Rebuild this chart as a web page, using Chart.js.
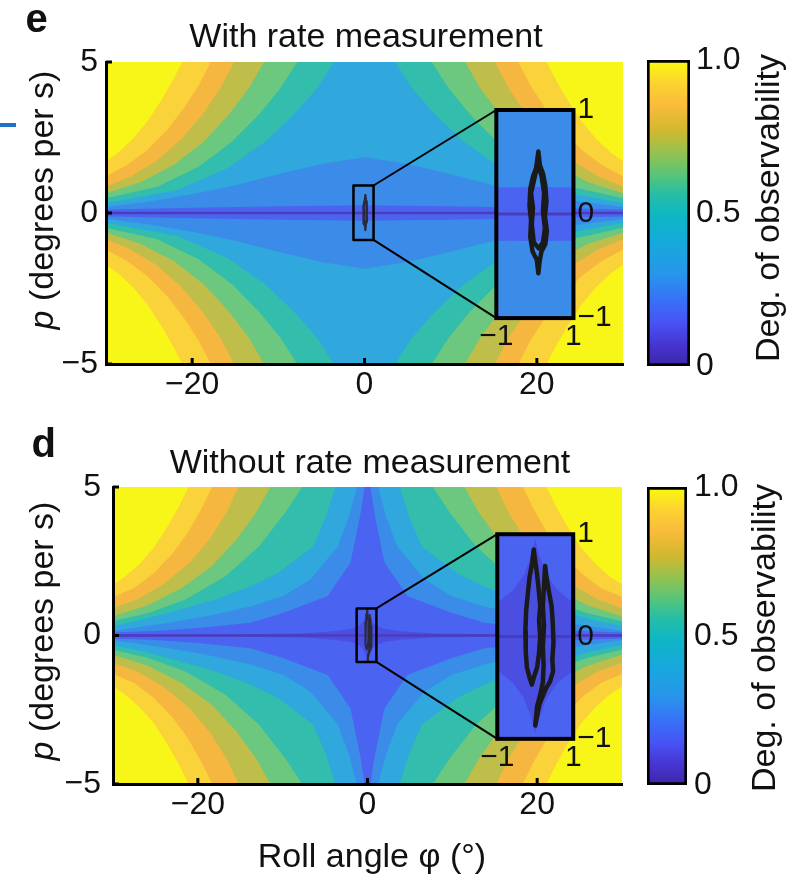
<!DOCTYPE html>
<html><head><meta charset="utf-8">
<script src="https://cdn.jsdelivr.net/npm/chart.js@4.4.1/dist/chart.umd.min.js"></script>
<style>
html,body{margin:0;padding:0;background:#fff;}
#wrap{position:relative;width:787px;height:875px;overflow:hidden;font-family:"Liberation Sans",Arial,Helvetica,sans-serif;color:#111;}
canvas{position:absolute;left:0;top:0;}
.t{position:absolute;white-space:nowrap;font-size:34px;line-height:34px;}
.c{text-align:center;}
.rot{width:400px;height:34px;transform:rotate(-90deg);transform-origin:50% 50%;text-align:center;}
.b{font-weight:bold;font-size:40px;line-height:40px;}
</style></head><body><div id="wrap">
<canvas id="mainTop" width="787" height="875"></canvas>
<canvas id="mainBot" width="787" height="875"></canvas>
<canvas id="cbTop" width="787" height="875"></canvas>
<canvas id="cbBot" width="787" height="875"></canvas>
<canvas id="insetTop" width="787" height="875"></canvas>
<canvas id="insetBot" width="787" height="875"></canvas>
<div style="position:absolute;left:0;top:123px;width:16px;height:4px;background:#1f73c4;"></div>
<div class="t b" style="left:25.5px;top:-2px;">e</div>
<div class="t b" style="left:31.5px;top:423px;">d</div>
<div class="t c" style="left:0;width:732px;top:18px;">With rate measurement</div>
<div class="t c" style="left:0;width:740px;top:444px;">Without rate measurement</div>
<div class="t rot" style="left:-159px;top:183px;"><i>p</i> (degrees per s)</div>
<div class="t rot" style="left:-159px;top:614px;"><i>p</i> (degrees per s)</div>
<div class="t c" style="left:0;width:744px;top:838px;">Roll angle φ (°)</div>
<div class="t rot" style="left:567px;top:191px;">Deg. of observability</div>
<div class="t rot" style="left:562.5px;top:621px;">Deg. of observability</div>
</div>
<script>
// ---------------- data ----------------
const phiRange = [-30, 30];          // roll angle axis (deg)
const pRange = [-5, 5];              // roll rate axis (deg/s)
const phiTicks = [-20, 0, 20];
const pTicks = [-5, 0, 5];
const zoomTicksX = [-1, 1];
const zoomTicksY = [-1, 0, 1];
const zoomRange = [-1, 1];
const cbTicks = [0, 0.5, 1];
const cbTickLabels = ['0', '0.5', '1.0'];
const curveLevels = [0.2, 0.3, 0.4, 0.5, 0.6, 0.7, 0.8, 0.9];

// Contour boundaries [phi, p], upper-left quadrant (field is symmetric in phi and p)
// "With rate measurement"
const rateL2 = [[0,0.26],[-10,0.22],[-20,0.17],[-30,0.12]];
const rateL3 = [[0,1.85],[-5,1.62],[-10,1.28],[-15,0.92],[-20,0.62],[-25,0.38],[-30,0.2]];
const rateL4 = [[-3.56,5],[-5.49,4.14],[-8.2,3.26],[-11.48,2.37],[-15.92,1.48],[-21.72,0.76],[-30,0.32]];
const rateL5 = [[-7.8,5],[-9.74,4.14],[-12.25,3.26],[-15.35,2.37],[-19.21,1.54],[-24.04,0.87],[-30,0.49]];
const rateL6 = [[-11.67,5],[-13.4,4.14],[-15.73,3.26],[-18.63,2.37],[-22.1,1.6],[-25.97,1.02],[-30,0.65]];
const rateL7 = [[-15.15,5],[-16.7,4.14],[-18.8,3.26],[-21.3,2.43],[-24.2,1.71],[-27.13,1.21],[-30,0.87]];
const rateL8 = [[-17.86,5],[-19.2,4.25],[-20.95,3.48],[-22.88,2.76],[-25.2,2.09],[-27.52,1.6],[-30,1.21]];
const rateL9 = [[-21.14,5],[-22.3,4.36],[-23.65,3.7],[-25.2,3.03],[-26.94,2.43],[-28.68,1.98],[-30,1.71]];
// "Without rate measurement"
const noRateL1 = [[0,0.95],[-0.1,0.8],[-0.3,0.6],[-0.6,0.45],[-1,0.33],[-2,0.22],[-4,0.14],[-8,0.07],[-15,0.04],[-30,0.03]];
const noRateL2 = [[-0.35,5],[-0.8,4.14],[-2.0,2.46],[-4.7,1.33],[-9.9,0.77],[-13.8,0.43],[-20,0.25],[-25,0.15],[-30,0.1]];
const noRateL3 = [[-1.25,5],[-2.2,4.0],[-3.5,3.0],[-6.7,1.89],[-9.9,1.33],[-13.8,0.98],[-19,0.65],[-24,0.4],[-30,0.15]];
const noRateL4 = [[-3.8,5],[-4.9,4.0],[-6.4,3.0],[-10.6,2.1],[-13.8,1.65],[-18,1.2],[-23,0.8],[-27,0.5],[-30,0.32]];
const noRateL5 = [[-7.7,5],[-9.7,4.13],[-12.8,3.0],[-16.7,2.0],[-21.45,1.21],[-25.8,0.76],[-30,0.48]];
const noRateL6 = [[-11.45,5],[-13.1,4.15],[-15.4,3.25],[-18.3,2.35],[-21.9,1.6],[-25.9,1.02],[-30,0.65]];
const noRateL7 = [[-15.2,5],[-16.6,4.15],[-18.6,3.25],[-21.1,2.42],[-24.1,1.72],[-27.1,1.22],[-30,0.92]];
const noRateL8 = [[-18.3,5],[-19.6,4.25],[-21.2,3.45],[-23.0,2.75],[-25.2,2.1],[-27.5,1.6],[-30,1.3]];
const noRateL9 = [[-21.1,5],[-22.3,4.3],[-23.7,3.6],[-25.2,2.95],[-26.9,2.4],[-28.6,1.98],[-30,1.72]];

// Trajectories in the zoom window [phi, p]
const trajRateA = [[0.09,0.6],[0.13,0.47],[0.21,0.39],[0.27,0.27],[0.3,0.12],[0.26,-0.02],[0.31,-0.16],[0.27,-0.29],[0.17,-0.36],[0.12,-0.46],[0.09,-0.57],[0.05,-0.44],[-0.06,-0.36],[-0.12,-0.22],[-0.1,-0.06],[-0.14,0.08],[-0.12,0.24],[-0.05,0.36],[0.03,0.44],[0.09,0.6]];
const trajRateB = [[0.07,0.48],[0.17,0.37],[0.24,0.2],[0.21,0.03],[0.26,-0.14],[0.21,-0.27],[0.1,-0.33],[-0.03,-0.27],[-0.08,-0.1],[-0.05,0.06],[-0.1,0.2],[-0.02,0.33],[0.07,0.48]];
const trajNoRateA = [[-0.04,0.85],[-0.08,0.72],[-0.15,0.58],[-0.19,0.44],[-0.24,0.25],[-0.26,0.05],[-0.25,-0.15],[-0.22,-0.3],[-0.15,-0.4],[-0.09,-0.47],[-0.03,-0.39],[0.05,-0.3],[0.1,-0.16],[0.13,0.0],[0.1,0.16],[0.13,0.3],[0.09,0.46],[0.05,0.6],[0.0,0.74],[-0.04,0.85]];
const trajNoRateB = [[0.26,0.69],[0.3,0.57],[0.36,0.44],[0.43,0.3],[0.46,0.14],[0.48,-0.06],[0.45,-0.22],[0.47,-0.34],[0.39,-0.44],[0.29,-0.5],[0.2,-0.58],[0.11,-0.66],[0.0,-0.87],[0.05,-0.68],[0.13,-0.57],[0.2,-0.45],[0.22,-0.28],[0.2,-0.1],[0.23,0.1],[0.2,0.3],[0.23,0.5],[0.26,0.69]];

// Zoom window drawn in the main axes, and where the magnified axes sit (main-axis units)
const zoomWindow = {xMin:-1.28, xMax:1.05, yMin:-0.89, yMax:0.91};
const insetPlace = {xMin:15.3, xMax:24.25, yMin:-3.48, yMax:3.41};

// ---------------- styles / layout ----------------
const W = 787, H = 875;
const bandColors = ['#4a4fe2','#4a64f1','#3b8ce9','#30a7dd','#33bdac','#6cc77f','#bfbe4b','#f5b73f','#fad23a','#f8f619'];
const lineColor = '#4c3cba';
const cbStops = [[0,'#3e26a8'],[0.07,'#4635d2'],[0.14,'#4852f4'],[0.22,'#3773f7'],[0.3,'#2796eb'],[0.4,'#16a9dc'],[0.49,'#0fb6c5'],[0.56,'#25bea6'],[0.62,'#55c47c'],[0.7,'#97c24e'],[0.77,'#d2b82e'],[0.85,'#f9bb3c'],[0.92,'#fdd132'],[1,'#f9fb0e']];
const areaTop = {left:106, top:62, right:623, bottom:364};
const areaBot = {left:113, top:487, right:622, bottom:784};
const cbAreaTop = {left:647, top:60, right:690, bottom:366};
const cbAreaBot = {left:647, top:487, right:687, bottom:785};

Chart.defaults.font.family = '"Liberation Sans", Arial, Helvetica, sans-serif';
Chart.defaults.color = '#111';

const fmt = v => String(v).replace('-', '\u2212');
const ticksFrom = arr => s => { s.ticks = arr.map(v => ({value: v})); };
const pts = arr => arr.map(([x, y]) => ({x, y}));
const mirror = (c, sx, sy) => c.map(([x, y]) => ({x: sx * x, y: sy * y}));
const noGrid = {display: false, drawTicks: false, tickLength: 0};

function outerPolys(c) {
  const up = [...mirror(c,1,1), {x:phiRange[0], y:pRange[1]}, {x:phiRange[1], y:pRange[1]}, ...mirror(c,-1,1).reverse()];
  const dn = [...mirror(c,1,-1), {x:phiRange[0], y:pRange[0]}, {x:phiRange[1], y:pRange[0]}, ...mirror(c,-1,-1).reverse()];
  return [up, dn];
}
function lensPoly(c) {
  return [...mirror(c,1,1), ...mirror(c,1,-1).reverse(), ...mirror(c,-1,-1), ...mirror(c,-1,1).reverse()];
}
function regionSets(curves, lens) {
  const sets = [];
  curves.forEach((c, i) => {
    const color = bandColors[Math.round(curveLevels[i] * 10)];
    outerPolys(c).forEach(poly => sets.push({data: poly, regionColor: color, showLine: false, pointRadius: 0}));
  });
  if (lens) sets.push({data: lensPoly(lens), regionColor: bandColors[0], showLine: false, pointRadius: 0});
  return sets;
}
function lineDs(arr, color, width) {
  return {data: pts(arr), showLine: true, borderColor: color, borderWidth: width, pointRadius: 0, fill: false, tension: 0,
          borderJoinStyle: 'round', borderCapStyle: 'round'};
}
function rectPts(b) {
  return [[b.xMin,b.yMin],[b.xMin,b.yMax],[b.xMax,b.yMax],[b.xMax,b.yMin],[b.xMin,b.yMin]];
}

const contourFill = {
  id: 'contourFill',
  beforeDraw(chart, args, opts) {
    const {ctx, chartArea: a} = chart;
    if (!a || !opts.background) return;
    ctx.save();
    ctx.beginPath(); ctx.rect(a.left, a.top, a.right - a.left, a.bottom - a.top); ctx.clip();
    ctx.fillStyle = opts.background;
    ctx.fillRect(a.left, a.top, a.right - a.left, a.bottom - a.top);
    chart.data.datasets.forEach((ds, i) => {
      if (!ds.regionColor) return;
      const el = chart.getDatasetMeta(i).data;
      ctx.beginPath();
      el.forEach((p, j) => j ? ctx.lineTo(p.x, p.y) : ctx.moveTo(p.x, p.y));
      ctx.closePath();
      ctx.fillStyle = ds.regionColor;
      ctx.fill();
    });
    ctx.restore();
  }
};
const inwardTicks = {
  id: 'inwardTicks',
  afterDraw(chart, args, opts) {
    if (!opts.len) return;
    const {ctx, chartArea: a, scales: {x, y}} = chart;
    ctx.save(); ctx.strokeStyle = '#000'; ctx.lineWidth = opts.width;
    x.ticks.forEach(t => { const px = x.getPixelForValue(t.value); ctx.beginPath(); ctx.moveTo(px, a.bottom); ctx.lineTo(px, a.bottom - opts.len); ctx.stroke(); });
    y.ticks.forEach(t => { const py = y.getPixelForValue(t.value); ctx.beginPath(); ctx.moveTo(a.left, py); ctx.lineTo(a.left + opts.len, py); ctx.stroke(); });
    ctx.restore();
  }
};
const frame = {
  id: 'frame',
  afterDraw(chart, args, opts) {
    if (!opts.width) return;
    const {ctx, chartArea: a} = chart;
    ctx.save(); ctx.strokeStyle = '#000'; ctx.lineWidth = opts.width;
    ctx.strokeRect(a.left, a.top, a.right - a.left, a.bottom - a.top);
    ctx.restore();
  }
};

const common = {animation: false, responsive: false, devicePixelRatio: 1, events: []};

function makeMain(id, area, curves, lens, trajs, yPad) {
  const yW = 80, xH = 60;
  const datasets = [
    lineDs(rectPts(zoomWindow), '#000', 2.5),
    lineDs([[zoomWindow.xMax, zoomWindow.yMax], [insetPlace.xMin, insetPlace.yMax]], '#000', 2),
    lineDs([[zoomWindow.xMax, zoomWindow.yMin], [insetPlace.xMin, insetPlace.yMin]], '#000', 2),
    ...trajs.map(t => lineDs(t, '#2a2a3a', 2)),
    lineDs([[phiRange[0], 0], [phiRange[1], 0]], lineColor, 2.5),
    ...regionSets(curves, lens)
  ];
  return new Chart(document.getElementById(id), {
    type: 'scatter',
    data: {datasets},
    options: {
      ...common,
      layout: {padding: {left: area.left - yW, top: area.top, right: W - area.right, bottom: H - area.bottom - xH}},
      plugins: {legend: {display: false}, tooltip: {enabled: false},
        contourFill: {background: bandColors[1]}, inwardTicks: {len: 6, width: 3}, frame: {width: 0}},
      scales: {
        x: {type: 'linear', min: phiRange[0], max: phiRange[1], afterBuildTicks: ticksFrom(phiTicks), afterFit: s => { s.height = xH; },
            grid: noGrid, border: {display: true, color: '#000', width: 3},
            ticks: {callback: fmt, font: {size: 32}, color: '#111', padding: 2, maxRotation: 0, autoSkip: false}},
        y: {type: 'linear', min: pRange[0], max: pRange[1], afterBuildTicks: ticksFrom(pTicks), afterFit: s => { s.width = yW; },
            grid: noGrid, border: {display: true, color: '#000', width: 3},
            ticks: {callback: fmt, font: {size: 32}, color: '#111', padding: yPad, autoSkip: false}}
      }
    },
    plugins: [contourFill, inwardTicks, frame]
  });
}

function makeInset(id, main, curves, lens, trajs) {
  const xs = main.scales.x, ys = main.scales.y;
  const a = {left: xs.getPixelForValue(insetPlace.xMin), right: xs.getPixelForValue(insetPlace.xMax),
             top: ys.getPixelForValue(insetPlace.yMax), bottom: ys.getPixelForValue(insetPlace.yMin)};
  const yW = 50, xH = 50;
  const datasets = [
    ...trajs.map(t => lineDs(t, '#1a1a1a', 4.5)),
    lineDs([[phiRange[0], 0], [phiRange[1], 0]], lineColor, 3),
    ...regionSets(curves, lens)
  ];
  return new Chart(document.getElementById(id), {
    type: 'scatter',
    data: {datasets},
    options: {
      ...common,
      layout: {padding: {left: a.left, top: a.top, right: W - a.right - yW, bottom: H - a.bottom - xH}},
      plugins: {legend: {display: false}, tooltip: {enabled: false},
        contourFill: {background: bandColors[1]}, inwardTicks: {len: 0}, frame: {width: 4}},
      scales: {
        x: {type: 'linear', min: zoomRange[0], max: zoomRange[1], afterBuildTicks: ticksFrom(zoomTicksX), afterFit: s => { s.height = xH; },
            grid: noGrid, border: {display: false},
            ticks: {callback: fmt, font: {size: 30}, color: '#111', padding: 1, maxRotation: 0, autoSkip: false}},
        y: {type: 'linear', position: 'right', min: zoomRange[0], max: zoomRange[1], afterBuildTicks: ticksFrom(zoomTicksY), afterFit: s => { s.width = yW; },
            grid: noGrid, border: {display: false},
            ticks: {callback: fmt, font: {size: 30}, color: '#111', padding: 4, autoSkip: false}}
      }
    },
    plugins: [contourFill, inwardTicks, frame]
  });
}

function makeColorbar(id, area, pad) {
  const yW = 70;
  return new Chart(document.getElementById(id), {
    type: 'bar',
    data: {labels: [''], datasets: [{
      data: [[cbTicks[0], cbTicks[cbTicks.length - 1]]],
      backgroundColor: c => {
        const ch = c.chart;
        if (!ch.chartArea) return '#888';
        const g = ch.ctx.createLinearGradient(0, ch.scales.y.getPixelForValue(0), 0, ch.scales.y.getPixelForValue(1));
        cbStops.forEach(([t, col]) => g.addColorStop(t, col));
        return g;
      },
      borderColor: '#000', borderWidth: 3, borderSkipped: false, barPercentage: 1, categoryPercentage: 1
    }]},
    options: {
      ...common,
      layout: {padding: {left: area.left, top: area.top, right: W - area.right - yW, bottom: H - area.bottom}},
      plugins: {legend: {display: false}, tooltip: {enabled: false}},
      scales: {
        x: {display: false},
        y: {position: 'right', min: 0, max: 1, afterBuildTicks: ticksFrom(cbTicks), afterFit: s => { s.width = yW; },
            grid: noGrid, border: {display: false},
            ticks: {callback: (v, i) => cbTickLabels[i], font: {size: 32}, color: '#111', padding: pad, autoSkip: false}}
      }
    }
  });
}

const rateCurves = [rateL2, rateL3, rateL4, rateL5, rateL6, rateL7, rateL8, rateL9];
const noRateCurves = [noRateL2, noRateL3, noRateL4, noRateL5, noRateL6, noRateL7, noRateL8, noRateL9];

const mainTop = makeMain('mainTop', areaTop, rateCurves, null, [trajRateA, trajRateB], 8);
const mainBot = makeMain('mainBot', areaBot, noRateCurves, noRateL1, [trajNoRateA, trajNoRateB], 12);
makeColorbar('cbTop', cbAreaTop, 6);
makeColorbar('cbBot', cbAreaBot, 7);
makeInset('insetTop', mainTop, rateCurves, null, [trajRateA, trajRateB]);
makeInset('insetBot', mainBot, noRateCurves, noRateL1, [trajNoRateA, trajNoRateB]);
</script>
</body></html>
